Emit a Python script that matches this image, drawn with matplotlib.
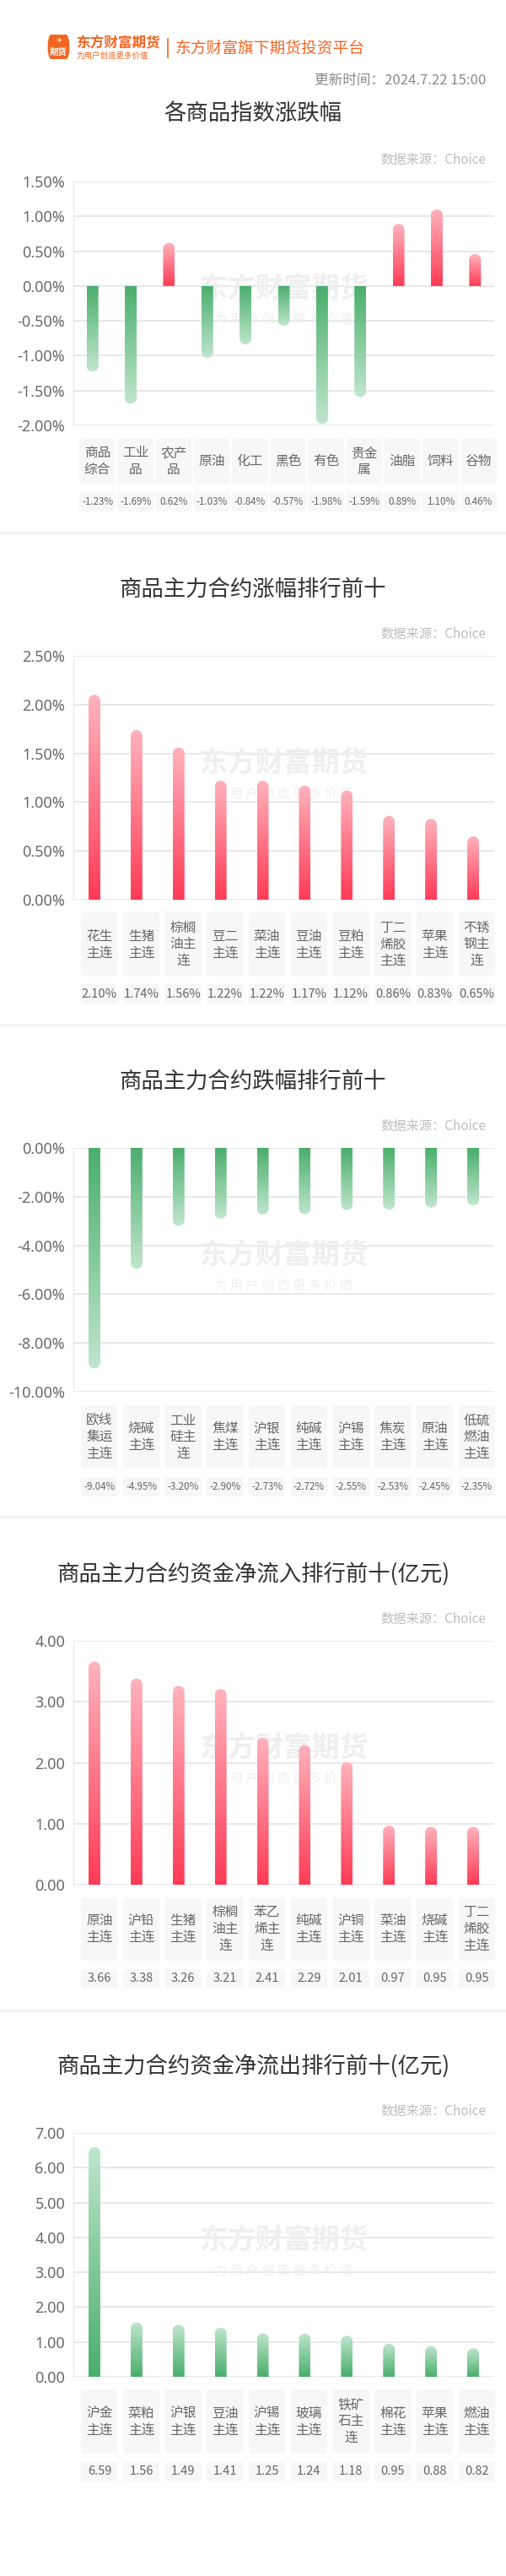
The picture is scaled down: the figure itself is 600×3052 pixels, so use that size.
import numpy as np
import matplotlib
matplotlib.use("Agg")
import matplotlib.pyplot as plt
from matplotlib.patches import FancyBboxPatch, PathPatch, Rectangle
from matplotlib.path import Path
from matplotlib.transforms import IdentityTransform
from matplotlib.colors import LinearSegmentedColormap

plt.rcParams["font.family"] = "Noto Sans CJK SC"

# ---------------- data ----------------
p1_labels = ["商品\n综合", "工业\n品", "农产\n品", "原油", "化工", "黑色", "有色", "贵金\n属", "油脂", "饲料", "谷物"]
p1_values = [-1.23, -1.69, 0.62, -1.03, -0.84, -0.57, -1.98, -1.59, 0.89, 1.10, 0.46]

p2_labels = ["花生\n主连", "生猪\n主连", "棕榈\n油主\n连", "豆二\n主连", "菜油\n主连", "豆油\n主连", "豆粕\n主连", "丁二\n烯胶\n主连", "苹果\n主连", "不锈\n钢主\n连"]
p2_values = [2.10, 1.74, 1.56, 1.22, 1.22, 1.17, 1.12, 0.86, 0.83, 0.65]

p3_labels = ["欧线\n集运\n主连", "烧碱\n主连", "工业\n硅主\n连", "焦煤\n主连", "沪银\n主连", "纯碱\n主连", "沪锡\n主连", "焦炭\n主连", "原油\n主连", "低硫\n燃油\n主连"]
p3_values = [-9.04, -4.95, -3.20, -2.90, -2.73, -2.72, -2.55, -2.53, -2.45, -2.35]

p4_labels = ["原油\n主连", "沪铅\n主连", "生猪\n主连", "棕榈\n油主\n连", "苯乙\n烯主\n连", "纯碱\n主连", "沪铜\n主连", "菜油\n主连", "烧碱\n主连", "丁二\n烯胶\n主连"]
p4_values = [3.66, 3.38, 3.26, 3.21, 2.41, 2.29, 2.01, 0.97, 0.95, 0.95]

p5_labels = ["沪金\n主连", "菜粕\n主连", "沪银\n主连", "豆油\n主连", "沪锡\n主连", "玻璃\n主连", "铁矿\n石主\n连", "棉花\n主连", "苹果\n主连", "燃油\n主连"]
p5_values = [6.59, 1.56, 1.49, 1.41, 1.25, 1.24, 1.18, 0.95, 0.88, 0.82]

p1_ticks = [1.5, 1.0, 0.5, 0.0, -0.5, -1.0, -1.5, -2.0]
p2_ticks = [0.0, 0.5, 1.0, 1.5, 2.0, 2.5]
p3_ticks = [0, -2, -4, -6, -8, -10]
p4_ticks = [0, 1, 2, 3, 4]
p5_ticks = [0, 1, 2, 3, 4, 5, 6, 7]

titles = ["各商品指数涨跌幅", "商品主力合约涨幅排行前十", "商品主力合约跌幅排行前十",
          "商品主力合约资金净流入排行前十(亿元)", "商品主力合约资金净流出排行前十(亿元)"]

# ---------------- layout ----------------
W, H = 600, 3052
fig = plt.figure(figsize=(W / 100, H / 100), dpi=100)
fig.patch.set_facecolor("white")

def fy(y):
    return 1 - y / H

def fx(x):
    return x / W

ORANGE = "#f26522"
red_cm = LinearSegmentedColormap.from_list("r", ["#ff3b56", "#ffb3bd"])
green_cm = LinearSegmentedColormap.from_list("g", ["#4aae6c", "#bfe6cd"])

# header
logo = FancyBboxPatch((fx(56), fy(70)), fx(27), 29 / H, boxstyle="round,pad=0,rounding_size=0.008",
                      transform=fig.transFigure, facecolor=ORANGE, edgecolor="none")
fig.patches.append(logo)
fig.text(fx(69.5), fy(62), "期货", color="white", fontsize=7.5, fontweight="bold", ha="center", va="center")
fig.text(fx(69.5), fy(47), "✈", color="white", fontsize=6, ha="center", va="center", family="DejaVu Sans")
fig.text(fx(90), fy(51), "东方财富期货", color=ORANGE, fontsize=12, fontweight="bold", ha="left", va="center")
fig.text(fx(90), fy(66), "为用户创造更多价值", color=ORANGE, fontsize=6.8, ha="left", va="center")
fig.add_artist(plt.Line2D([fx(199), fx(199)], [fy(46), fy(68)], color=ORANGE, lw=1.2, transform=fig.transFigure))
fig.text(fx(208), fy(57), "东方财富旗下期货投资平台", color=ORANGE, fontsize=13.5, ha="left", va="center")
fig.text(fx(576), fy(95), "更新时间：2024.7.22 15:00", color="#8a8a8a", fontsize=12, ha="right", va="center")

panels = [
    dict(labels=p1_labels, values=p1_values, ticks=p1_ticks, ylim=(-2.0, 1.5), fmt="{:.2f}%",
         top=215, title_y=135, src_y=189, box=(520, 573), val=(582, 606), vfs=8.3, sep=631),
    dict(labels=p2_labels, values=p2_values, ticks=p2_ticks, ylim=(0, 2.5), fmt="{:.2f}%",
         top=777, title_y=698, src_y=751, box=(1081, 1157), val=(1166, 1189), vfs=10.5, sep=1214),
    dict(labels=p3_labels, values=p3_values, ticks=p3_ticks, ylim=(-10, 0), fmt="{:.2f}%",
         top=1360, title_y=1282, src_y=1334, box=(1665, 1740), val=(1750, 1773), vfs=8.3, sep=1797),
    dict(labels=p4_labels, values=p4_values, ticks=p4_ticks, ylim=(0, 4), fmt="{:.2f}",
         top=1944, title_y=1865, src_y=1918, box=(2248, 2323), val=(2333, 2356), vfs=10.5, sep=2382),
    dict(labels=p5_labels, values=p5_values, ticks=p5_ticks, ylim=(0, 7), fmt="{:.2f}",
         top=2527, title_y=2448, src_y=2501, box=(2831, 2907), val=(2917, 2940), vfs=10.5, sep=None),
]

AX_L, AX_R, AX_H = 87, 586, 289
BAR_W = 14


def grad_bar(ax, rect, cmap):
    x0d = rect.get_x(); wd = rect.get_width(); h = rect.get_height(); yb = rect.get_y()
    (px0, pyb), = ax.transData.transform([(x0d, yb)])
    (px1, pyt), = ax.transData.transform([(x0d + wd, yb + h)])
    r = (px1 - px0) / 2
    cx = (px0 + px1) / 2
    sgn = 1 if pyt > pyb else -1
    if abs(pyt - pyb) < r:
        r = abs(pyt - pyb)
    yc = pyt - sgn * r
    th = np.linspace(np.pi, 0, 30)
    arc = np.column_stack([cx + (px1 - px0) / 2 * np.cos(th), yc + sgn * r * np.sin(th)])
    verts = np.vstack([[px0, pyb], [px0, yc], arc, [px1, yc], [px1, pyb], [px0, pyb]])
    path = Path(verts)
    clip = PathPatch(path, transform=IdentityTransform(), facecolor="none", edgecolor="none")
    ax.add_patch(clip)
    grad = np.linspace(0, 1, 256).reshape(-1, 1)
    y_lo, y_hi = sorted([yb, yb + h])
    if h >= 0:
        img = grad  # origin lower: row0 at bottom (base)
    else:
        img = grad[::-1]
    im = ax.imshow(img, cmap=cmap, aspect="auto", origin="lower",
                   extent=(x0d, x0d + wd, y_lo, y_hi), zorder=3, interpolation="bilinear")
    im.set_clip_path(clip)


for i, p in enumerate(panels):
    n = len(p["values"])
    top = p["top"]
    ax = fig.add_axes([fx(AX_L), fy(top + AX_H), fx(AX_R - AX_L), AX_H / H])
    ax.set_xlim(-0.5, n - 0.5)
    ax.set_ylim(*p["ylim"])
    slot = (AX_R - AX_L) / n
    wdata = BAR_W / slot
    x = np.arange(n)
    bars = ax.bar(x, p["values"], width=wdata, color="none", edgecolor="none", zorder=3)
    for rect, v in zip(bars, p["values"]):
        if i in (3,):
            cm = red_cm
        elif i == 4:
            cm = green_cm
        else:
            cm = red_cm if v >= 0 else green_cm
        grad_bar(ax, rect, cm)
    ax.set_yticks(p["ticks"])
    ax.set_yticklabels([p["fmt"].format(t) for t in p["ticks"]])
    ax.tick_params(axis="y", length=0, pad=7, labelsize=13, labelcolor="#6a6a6a")
    ax.set_xticks([])
    ax.grid(axis="y", color="#e2e2e2", lw=1.1, zorder=0)
    ax.set_axisbelow(True)
    for s in ["top", "right", "bottom"]:
        ax.spines[s].set_visible(False)
    ax.spines["left"].set_color("#e6e6e6")
    for t in ax.get_yticklabels():
        t.set_family("Noto Sans")

    # watermark
    ax.text(0.5, 1 - 128 / AX_H, "东方财富期货", transform=ax.transAxes, ha="center", va="center",
            fontsize=24, fontweight="bold", color="#efefef", zorder=1)
    ax.text(0.5, 1 - 163 / AX_H, "为 用 户 创 造 更 多 价 值", transform=ax.transAxes, ha="center",
            va="center", fontsize=11, color="#f0f0f0", zorder=1)

    # titles
    fig.text(0.5, fy(p["title_y"]), titles[i], ha="center", va="center", fontsize=19, color="#333333")
    fig.text(fx(576), fy(p["src_y"]), "数据来源：Choice", ha="right", va="center", fontsize=11, color="#bdbdbd")

    # label / value boxes
    b0, b1 = p["box"]
    v0, v1 = p["val"]
    lax = fig.add_axes([fx(93), fy(v1), fx(590 - 93), (v1 - b0) / H])
    lax.set_xlim(0, n)
    lax.set_ylim(v1, b0)
    lax.axis("off")
    sl = (590 - 93) / n
    gap = (sl - 43) / 2 / sl
    for j, (lab, val) in enumerate(zip(p["labels"], p["values"])):
        for (ya, yb_), txt, fs in [((b0, b1), lab, 11.3), ((v0, v1), p["fmt"].format(val), p["vfs"])]:
            lax.add_patch(FancyBboxPatch((j + gap, ya), 1 - 2 * gap, yb_ - ya,
                                         boxstyle="round,pad=0,rounding_size=0.08", mutation_aspect=40,
                                         facecolor="#f7f7f7", edgecolor="none"))
            lax.text(j + 0.5, (ya + yb_) / 2, txt, ha="center", va="center", fontsize=fs,
                     color="#666666", linespacing=1.2)

    if p["sep"]:
        fig.add_artist(Rectangle((0, fy(p["sep"] + 2)), 1, 3 / H, transform=fig.transFigure,
                                 facecolor="#f2f2f2", edgecolor="none"))

fig.savefig("out.png", dpi=100)
